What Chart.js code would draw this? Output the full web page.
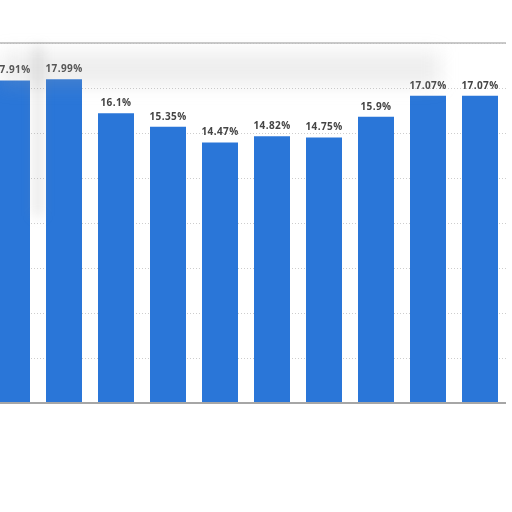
<!DOCTYPE html>
<html>
<head>
<meta charset="utf-8">
<script src="https://cdn.jsdelivr.net/npm/chart.js@4.4.1/dist/chart.umd.min.js"></script>
<style>
  html, body { margin: 0; padding: 0; background: #fff; overflow: hidden; }
  #wrap { position: relative; width: 512px; height: 512px; overflow: hidden; }
  #box { position: absolute; left: -14px; top: 0; width: 520px; height: 512px; }
  .smudge { position: absolute; pointer-events: none; }
</style>
</head>
<body>
<div id="wrap">
  <div id="box"><canvas id="myChart"></canvas></div>
  <div class="smudge" style="left:0;top:52px;width:440px;height:34px;background:rgba(170,170,170,0.2);filter:blur(9px);"></div>
  <div class="smudge" style="left:33px;top:46px;width:10px;height:170px;background:rgba(150,150,150,0.22);filter:blur(6px);"></div>
</div>
<script>
// valores
const categorias = ["1", "2", "3", "4", "5", "6", "7", "8", "9", "10"];
const valores = [17.91, 17.99, 16.1, 15.35, 14.47, 14.82, 14.75, 15.9, 17.07, 17.07];
const etiquetas = ["17.91%", "17.99%", "16.1%", "15.35%", "14.47%", "14.82%", "14.75%", "15.9%", "17.07%", "17.07%"];
const ejeMax = 20;
const ejePaso = 2.5;

const marco = {
  id: "marco",
  afterDatasetsDraw(chart) {
    const { ctx, chartArea } = chart;
    ctx.save();
    // linea superior
    ctx.strokeStyle = "#b9b9b9";
    ctx.lineWidth = 1.5;
    ctx.beginPath();
    ctx.moveTo(chartArea.left, chartArea.top);
    ctx.lineTo(chartArea.right + 4, chartArea.top);
    ctx.stroke();
    // linea base
    ctx.strokeStyle = "#a6a6a6";
    ctx.lineWidth = 2;
    ctx.beginPath();
    ctx.moveTo(chartArea.left, chartArea.bottom);
    ctx.lineTo(chartArea.right, chartArea.bottom);
    ctx.stroke();
    ctx.restore();
  }
};

const rotulos = {
  id: "rotulos",
  afterDatasetsDraw(chart) {
    const { ctx } = chart;
    const meta = chart.getDatasetMeta(0);
    ctx.save();
    ctx.font = "bold 10px 'Open Sans', sans-serif";
    ctx.letterSpacing = "0.4px";
    ctx.fillStyle = "#444";
    ctx.textAlign = "center";
    ctx.textBaseline = "bottom";
    meta.data.forEach((barra, i) => {
      ctx.fillText(etiquetas[i], barra.x, barra.y - 5);
    });
    ctx.restore();
  }
};

const myChart = document.getElementById("myChart");

window.grafica = new Chart(myChart, {
  type: "bar",
  data: {
    labels: categorias,
    datasets: [
      {
        data: valores,
        backgroundColor: "#2a76d8",
        borderWidth: 0,
        barPercentage: 36 / 52,
        categoryPercentage: 1
      }
    ]
  },
  options: {
    responsive: true,
    maintainAspectRatio: false,
    animation: false,
    layout: { padding: { top: 43, bottom: 109, left: 0, right: 0 } },
    plugins: { legend: { display: false }, tooltip: { enabled: false } },
    scales: {
      x: { display: false },
      y: {
        min: 0,
        max: ejeMax,
        ticks: { display: false, stepSize: ejePaso },
        border: { display: false, dash: [1, 2] },
        grid: { color: "#cdcdcd", lineWidth: 1, drawTicks: false }
      }
    }
  },
  plugins: [marco, rotulos]
});
</script>
</body>
</html>
